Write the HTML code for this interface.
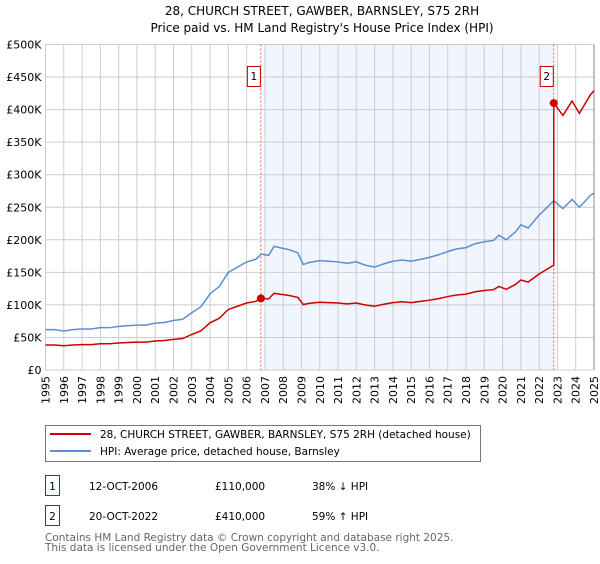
<!DOCTYPE html>
<html><head><meta charset="utf-8"><style>
body{margin:0;background:#fff;font-family:"DejaVu Sans","Liberation Sans",sans-serif;}
svg text{font-family:"DejaVu Sans","Liberation Sans",sans-serif;}
</style></head><body>
<svg id="c" width="600" height="560" xmlns="http://www.w3.org/2000/svg">
<text x="322" y="15" text-anchor="middle" font-size="12">28, CHURCH STREET, GAWBER, BARNSLEY, S75 2RH</text>
<text x="322" y="32" text-anchor="middle" font-size="12">Price paid vs. HM Land Registry's House Price Index (HPI)</text>
<g id="plot"></g>
<rect x="45.5" y="425.5" width="435" height="36" fill="#fff" stroke="#777"/>
<line x1="50" y1="434" x2="91" y2="434" stroke="#cc0000" stroke-width="2"/>
<text x="100" y="438" font-size="10.5">28, CHURCH STREET, GAWBER, BARNSLEY, S75 2RH (detached house)</text>
<line x1="50" y1="451" x2="91" y2="451" stroke="#5b8fd4" stroke-width="2"/>
<text x="100" y="455" font-size="10.5">HPI: Average price, detached house, Barnsley</text>
<g font-size="10.5">
<rect x="45.5" y="475.5" width="14" height="20" fill="none" stroke="#cc0000"/>
<text x="52.5" y="490" text-anchor="middle">1</text>
<text x="89" y="490">12-OCT-2006</text>
<text x="215" y="490">£110,000</text>
<text x="312" y="490">38% ↓ HPI</text>
<rect x="45.5" y="505.5" width="14" height="20" fill="none" stroke="#cc0000"/>
<text x="52.5" y="520" text-anchor="middle">2</text>
<text x="89" y="520">20-OCT-2022</text>
<text x="215" y="520">£410,000</text>
<text x="312" y="520">59% ↑ HPI</text>
</g>
<text x="45" y="541" font-size="10.5" fill="#666">Contains HM Land Registry data © Crown copyright and database right 2025.</text>
<text x="45" y="551" font-size="10.5" fill="#666">This data is licensed under the Open Government Licence v3.0.</text>
</svg>
<script>
const years=[1995,1996,1997,1998,1999,2000,2001,2002,2003,2004,2005,2006,2007,2008,2009,2010,2011,2012,2013,2014,2015,2016,2017,2018,2019,2020,2021,2022,2023,2024,2025];
const yTicks=[0,50000,100000,150000,200000,250000,300000,350000,400000,450000,500000];
const yTickLabels=["£0","£50K","£100K","£150K","£200K","£250K","£300K","£350K","£400K","£450K","£500K"];
const hpiDates=[1995,1995.5,1996,1996.5,1997,1997.5,1998,1998.5,1999,1999.5,2000,2000.5,2001,2001.5,2002,2002.5,2003,2003.5,2004,2004.5,2005,2005.5,2006,2006.5,2006.8,2007.2,2007.5,2007.8,2008.3,2008.8,2009.1,2009.4,2010,2010.5,2011,2011.5,2012,2012.5,2013,2013.5,2014,2014.5,2015,2015.5,2016,2016.5,2017,2017.5,2018,2018.5,2019,2019.5,2019.8,2020.2,2020.7,2021,2021.4,2022,2022.8,2023.3,2023.8,2024.2,2024.8,2025];
const hpiValues=[62000,62000,60000,62000,63000,63000,65000,65000,67000,68000,69000,69000,72000,73000,76000,78000,88000,97000,117000,128000,150000,158000,166000,170000,178000,176000,190000,188000,185000,180000,162000,165000,168000,167000,166000,164000,166000,161000,158000,163000,167000,169000,167000,170000,173000,177000,182000,186000,188000,194000,197000,199000,207000,200000,212000,223000,218000,238000,260000,248000,262000,250000,268000,272000];
const saleDates=[2006.78,2022.8];
const salePrices=[110000,410000];

const X0=45.5,X1=594,Y0=370,Y1=44.5;
const xs=t=>X0+(t-1995)/(2025-1995)*(X1-X0);
const ys=v=>Y0-v/500000*(Y0-Y1);
const NS="http://www.w3.org/2000/svg";
const plot=document.getElementById('plot');
function mk(tag,attrs,parent){const e=document.createElementNS(NS,tag);for(const k in attrs)e.setAttribute(k,attrs[k]);(parent||plot).appendChild(e);return e;}

mk('rect',{x:X0,y:Y1,width:X1-X0,height:Y0-Y1,fill:'#fff'});
const shade=mk('rect',{x:xs(Math.ceil(saleDates[0])),y:Y1,width:xs(saleDates[1])-xs(Math.ceil(saleDates[0])),height:Y0-Y1,fill:'#eef3fd',opacity:0.8});


years.forEach((yr,i)=>{
  const g=mk('line',{x1:xs(yr),x2:xs(yr),y1:Y1,y2:Y0,stroke:'#cccccc','stroke-width':1});
  
  
  const t=mk('text',{x:0,y:0,'font-size':11,'text-anchor':'end',transform:`translate(${xs(yr)+4},${Y0+6}) rotate(-90)`});
  t.textContent=yr;
  
  
});
yTicks.forEach((v,i)=>{
  const g=mk('line',{x1:X0,x2:X1,y1:ys(v),y2:ys(v),stroke:'#cccccc','stroke-width':1});
  
  
  const t=mk('text',{x:X0-4,y:ys(v)+4,'font-size':11,'text-anchor':'end'});
  t.textContent=yTickLabels[i];
  
  
});
mk('line',{x1:X1,x2:X1,y1:Y1,y2:Y0,stroke:'#888','stroke-width':1});

function hpiAt(t){for(let i=1;i<hpiDates.length;i++){if(t<=hpiDates[i]){const a=hpiDates[i-1],b=hpiDates[i];return hpiValues[i-1]+(hpiValues[i]-hpiValues[i-1])*(t-a)/(b-a);}}return hpiValues[hpiValues.length-1];}
// sale marker lines
saleDates.forEach((d,i)=>{
  const l=mk('line',{x1:xs(d),x2:xs(d),y1:Y1,y2:Y0,stroke:'#e06060','stroke-width':1,'stroke-dasharray':'2,2'});
  
  
});
// hpi line
const hp=mk('polyline',{points:hpiDates.map((d,i)=>xs(d)+','+ys(hpiValues[i])).join(' '),fill:'none',stroke:'#5b8fd4','stroke-width':1.5});


// property line: sale price indexed by HPI
let pts=[];
hpiDates.forEach((d,i)=>{
  const k=d<saleDates[1]?0:1;
  if(k===1&&pts.length&&pts.lastK===0){const r0=salePrices[0]/hpiAt(saleDates[0]);pts.push([saleDates[1],hpiAt(saleDates[1])*r0]);pts.push([saleDates[1],salePrices[1]]);}
  const r=salePrices[k]/hpiAt(saleDates[k]);
  pts.push([d,hpiValues[i]*r]);pts.lastK=k;
});
const pl=mk('polyline',{points:pts.map(p=>xs(p[0])+','+ys(p[1])).join(' '),fill:'none',stroke:'#cc0000','stroke-width':1.5});


saleDates.forEach((d,i)=>{
  const c=mk('circle',{cx:xs(d),cy:ys(salePrices[i]),r:4,fill:'#cc0000'});
  
  
  const bx=xs(d)-14;
  const b=mk('rect',{x:bx+0.5,y:66.5,width:13,height:20,fill:'#fff',stroke:'#cc0000'});
  
  
  const t=mk('text',{x:bx+7,y:80,'font-size':10.5,'text-anchor':'middle'});
  t.textContent=String(i+1);
  
  
});
</script>
</body></html>
